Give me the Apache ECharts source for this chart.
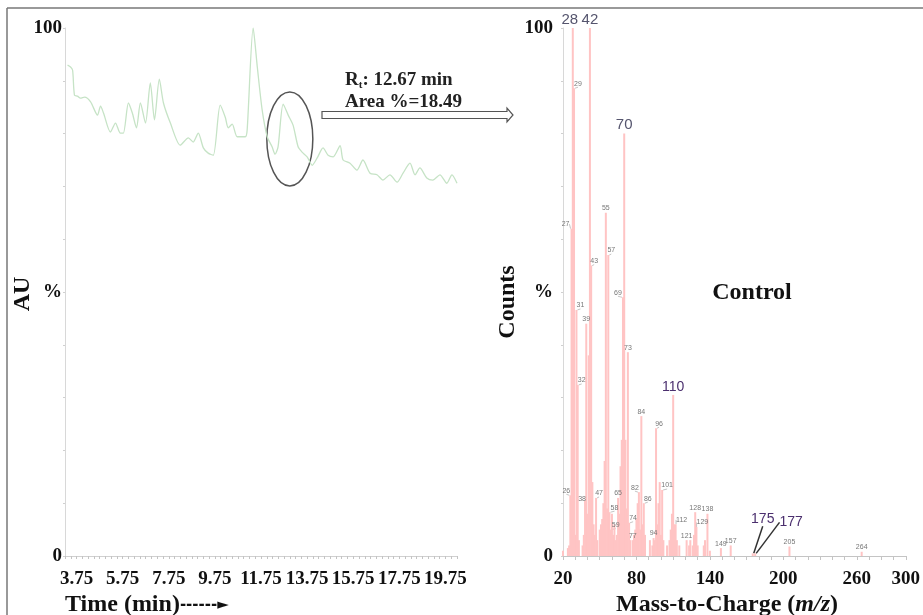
<!DOCTYPE html>
<html><head><meta charset="utf-8">
<script src="https://cdn.jsdelivr.net/npm/echarts@6/dist/echarts.min.js"></script>
<style>html,body{margin:0;padding:0;background:#fff}#c{width:923px;height:615px}</style>
</head><body><div id="c"></div>
<script>
// ---- Chromatogram (left) ----
const timeMin = [3.36,3.49,3.58,3.66,3.79,3.92,4.10,4.36,4.66,4.79,4.92,5.22,5.44,5.65,5.78,6.00,6.17,6.35,6.52,6.74,6.95,7.13,7.34,7.52,7.82,8.25,8.60,8.81,9.03,9.25,9.46,9.68,9.98,10.20,10.33,10.50,10.72,11.07,11.15,11.41,11.59,11.80,12.02,12.23,12.36,12.49,12.71,12.93,13.14,13.36,13.53,13.75,13.97,14.20,14.44,14.66,14.88,15.18,15.31,15.61,15.91,16.17,16.48,16.78,17.04,17.34,17.65,17.91,18.21,18.43,18.64,18.94,19.20,19.51,19.81,20.03,20.25];
const auPercent = [93.0,92.6,92.0,87.3,87.1,86.7,86.9,86.0,83.5,85.2,83.9,80.3,82.0,80.1,80.1,85.8,83.9,81.1,85.8,82.0,89.6,82.6,90.3,85.8,82.0,77.8,79.2,78.4,80.1,77.3,76.3,75.9,85.4,83.1,81.1,81.8,79.4,79.4,80.7,100,92.6,84.5,79.4,77.5,76.1,77.5,85.6,83.5,81.6,77.5,76.5,75.6,74.0,75.5,77.3,75.9,75.6,77.7,75.0,74.4,73.1,75.0,72.5,72.2,71.2,72.2,70.8,72.5,74.4,72.2,73.5,71.6,71.2,72.2,70.6,72.2,70.6];
const timeTickLabels = [3.75,5.75,7.75,9.75,11.75,13.75,15.75,17.75,19.75];
const retentionTime = 12.67;
const areaPercent = 18.49;

// ---- Mass spectrum (right) ----
const mzValues = [20,24,25,26,27,28,29,30,31,32,33,36,37,38,39,40,41,42,43,44,45,46,47,48,50,51,52,53,54,55,56,57,58,59,60,61,62,63,64,65,66,67,68,69,70,71,72,73,74,75,77,78,79,80,81,82,83,84,85,86,87,91,93,94,95,96,97,98,99,100,101,102,105,107,108,109,110,111,112,113,115,121,123,124,126,127,128,129,130,135,136,138,140,149,157,175,177,205,264];
const mzCounts = [1,1.5,2,11.5,62,100,88.6,4,46.6,32.4,3,2,4,10.5,44,8,38,100,55,14,6,4,11,3,5,6,7,10,18,65,9,57,8.3,5,8,4,6,3,4,11,8,17,22,49,80,22,9,38.6,6.3,3,3,4,5,7,10,12.1,5,26.5,6,10,4,3,2,3.4,3,24.2,6,10,14,4,12.5,3,2,3,5,8,30.5,6,6,3,2,3,2,3,2,4,8.3,5.5,2,2,3,8,1,1.5,2,0.5,0.5,1.8,0.8];
const mzTickLabels = [20,80,140,200,260,300];
const smallLabelMz = [26,27,29,31,32,38,39,43,47,55,57,58,59,65,69,73,74,77,82,84,86,94,96,101,112,121,128,129,138,149,157,205,264];
const bigLabelMz = [28,42,70];
const highlightLabelMz = [110,175,177];
const sampleName = 'Control';

// label shifts (style only)
const labelShift = {26:[-4,0],27:[-6,0],28:[-3,0],29:[4,0],31:[4,0],32:[4,0],38:[-3,3],43:[3,0],47:[3,0],57:[3,0],58:[5,0],59:[5,0],69:[-5,0],74:[4,0],82:[-4,0],86:[4,0],96:[3,0],101:[5,0],112:[6,0],129:[6,0],175:[10,-26],177:[36,-23]};

const SERIF = "'Liberation Serif','Times New Roman',serif";
const SANS = "'Liberation Sans',Arial,sans-serif";

const spectrumData = mzValues.map((m, i) => {
  const item = {value: [m, mzCounts[i]]};
  if (smallLabelMz.includes(m)) {
    item.label = {show: true, fontSize: 7, color: '#777', fontFamily: SANS};
    item.labelLine = {show: !!labelShift[m], lineStyle: {color: '#aaa', width: 0.7}};
  } else if (bigLabelMz.includes(m)) {
    item.label = {show: true, fontSize: 15, color: '#55556e', fontFamily: SANS};
  } else if (highlightLabelMz.includes(m)) {
    item.label = {show: true, fontSize: 14, color: '#4b2f6e', fontFamily: SANS};
    if (m !== 110) item.labelLine = {show: true, lineStyle: {color: '#333', width: 1.5}};
  }
  return item;
});

const yLab = v => v === 0 ? '0' : (v === 50 ? '%' : (v === 100 ? '100' : ''));
const axisLabelStyle = {fontFamily: SERIF, fontWeight: 'bold', fontSize: 19, color: '#111'};

const chart = echarts.init(document.getElementById('c'), null, {renderer: 'canvas'});
const option = {
  animation: false,
  backgroundColor: '#fff',
  grid: [
    {left: 65, top: 28, width: 392, bottom: 59},
    {left: 563, top: 28, right: 6, bottom: 59}
  ],
  xAxis: [
    {type: 'value', gridIndex: 0, min: 3.25, max: 20.25, interval: 0.25,
     axisLine: {lineStyle: {color: '#d0d0d0', width: 1}},
     axisTick: {show: true, length: 3, lineStyle: {color: '#c4c4c4'}},
     axisLabel: {customValues: timeTickLabels, formatter: v => v.toFixed(2), margin: 14, ...axisLabelStyle},
     splitLine: {show: false}},
    {type: 'value', gridIndex: 1, min: 20, max: 300, interval: 10,
     axisLine: {lineStyle: {color: '#c4c4c4', width: 1}},
     axisTick: {show: true, length: 4, lineStyle: {color: '#c4c4c4'}},
     axisLabel: {customValues: mzTickLabels, margin: 14, ...axisLabelStyle},
     splitLine: {show: false}}
  ],
  yAxis: [
    {type: 'value', gridIndex: 0, min: 0, max: 100, interval: 10,
     axisLine: {show: true, lineStyle: {color: '#d8d8d8'}},
     axisTick: {show: true, length: 2, lineStyle: {color: '#d0d0d0'}},
     axisLabel: {formatter: yLab, margin: 3, ...axisLabelStyle},
     splitLine: {show: false}},
    {type: 'value', gridIndex: 1, min: 0, max: 100, interval: 10,
     axisLine: {show: true, lineStyle: {color: '#d8d8d8'}},
     axisTick: {show: true, length: 2, lineStyle: {color: '#d0d0d0'}},
     axisLabel: {formatter: yLab, margin: 10, ...axisLabelStyle},
     splitLine: {show: false}}
  ],
  series: [
    {type: 'line', xAxisIndex: 0, yAxisIndex: 0, showSymbol: false, symbol: 'none', smooth: 0.25,
     data: timeMin.map((t, i) => [t, auPercent[i]]),
     lineStyle: {color: '#c6e3c6', width: 1.3}},
    {type: 'bar', xAxisIndex: 1, yAxisIndex: 1, barWidth: 2,
     itemStyle: {color: '#ffc4c4'},
     label: {show: false, position: 'top', distance: 1, formatter: p => String(p.value[0])},
     labelLayout: p => {
       const s = labelShift[mzValues[p.dataIndex]];
       return s ? {dx: s[0], dy: s[1]} : {};
     },
     data: spectrumData}
  ]
};
chart.setOption(option);

const ell = chart.convertToPixel({gridIndex: 0}, [13.0, 79]);
chart.setOption({
  graphic: [
    {type: 'line', shape: {x1: 7, y1: 8, x2: 923, y2: 8}, style: {stroke: '#777', lineWidth: 1.5}},
    {type: 'line', shape: {x1: 7, y1: 8, x2: 7, y2: 615}, style: {stroke: '#777', lineWidth: 1.5}},
    {type: 'ellipse', shape: {cx: ell[0], cy: ell[1], rx: 23, ry: 47}, style: {fill: 'none', stroke: '#555', lineWidth: 1.5}},
    {type: 'polygon', shape: {points: [[322,111.5],[507,111.5],[507,108],[513,115],[507,122],[507,118.5],[322,118.5]]},
     style: {fill: '#fff', stroke: '#555', lineWidth: 1.2}},
    {type: 'text', x: 345, y: 80, style: {
      text: '{a|R}{s|t}{a|: ' + retentionTime.toFixed(2) + ' min}',
      verticalAlign: 'middle', align: 'left',
      rich: {a: {fontFamily: SERIF, fontWeight: 'bold', fontSize: 19, fill: '#222'},
             s: {fontFamily: SERIF, fontWeight: 'bold', fontSize: 11, fill: '#222', padding: [10, 0, 0, 0]}}}},
    {type: 'text', x: 345, y: 102, style: {text: 'Area %=' + areaPercent.toFixed(2), font: "bold 19px " + SERIF, fill: '#222', verticalAlign: 'middle', align: 'left'}},
    {type: 'text', x: 23, y: 294, rotation: Math.PI / 2, style: {text: 'AU', font: "bold 24px " + SERIF, fill: '#111', align: 'center', verticalAlign: 'middle'}},
    {type: 'text', x: 508, y: 302, rotation: Math.PI / 2, style: {text: 'Counts', font: "bold 24px " + SERIF, fill: '#111', align: 'center', verticalAlign: 'middle'}},
    {type: 'text', x: 65, y: 605, style: {
      text: '{a|Time (min)}{b|------►}', verticalAlign: 'middle', align: 'left',
      rich: {a: {fontFamily: SERIF, fontWeight: 'bold', fontSize: 24, fill: '#111'},
             b: {fontFamily: "'DejaVu Sans',sans-serif", fontWeight: 'bold', fontSize: 15, fill: '#111'}}}},
    {type: 'text', x: 727, y: 605, style: {
      text: '{a|Mass-to-Charge (}{b|m/z}{a|)}', verticalAlign: 'middle', align: 'center',
      rich: {a: {fontFamily: SERIF, fontWeight: 'bold', fontSize: 24, fill: '#111'},
             b: {fontFamily: SERIF, fontWeight: 'bold', fontStyle: 'italic', fontSize: 24, fill: '#111'}}}},
    {type: 'text', x: 752, y: 293, style: {text: sampleName, font: "bold 24px " + SERIF, fill: '#111', align: 'center', verticalAlign: 'middle'}}
  ]
});
</script></body></html>
